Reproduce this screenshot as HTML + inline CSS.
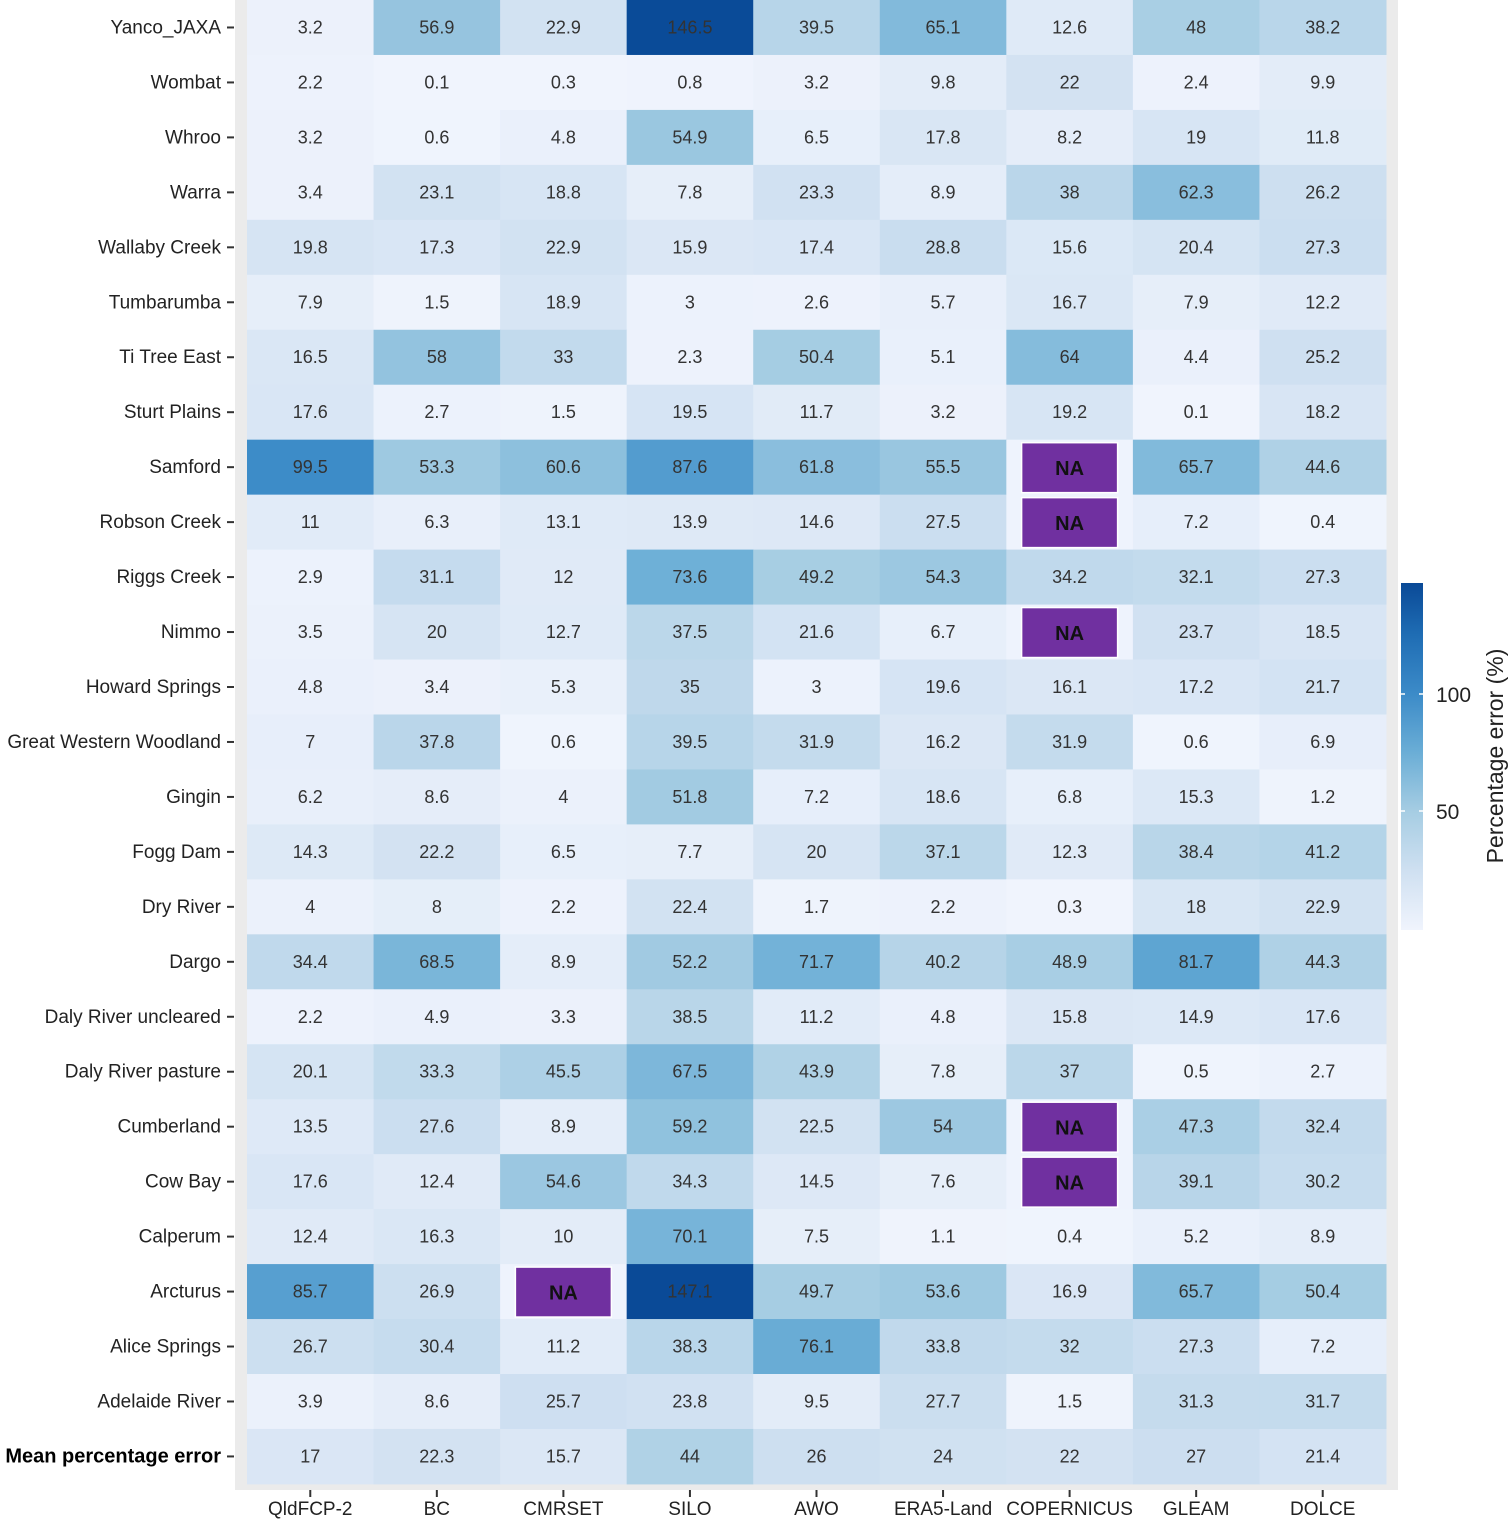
<!DOCTYPE html>
<html><head><meta charset="utf-8"><style>
body{margin:0;background:#fff;font-family:"Liberation Sans",Arial,sans-serif;}
svg text{font-family:"Liberation Sans",Arial,sans-serif;}
</style></head><body>
<svg id="chart" width="1511" height="1520" viewBox="0 0 1511 1520">
<defs><linearGradient id="cb" x1="0" y1="1" x2="0" y2="0">
<stop offset="0" stop-color="#f0f4fd"/><stop offset="0.17" stop-color="#cfe0f1"/><stop offset="0.34" stop-color="#a6cde3"/><stop offset="0.51" stop-color="#6baed6"/><stop offset="0.68" stop-color="#3c8bc8"/><stop offset="0.85" stop-color="#1f6db4"/><stop offset="1" stop-color="#0a4a97"/></linearGradient></defs>
<rect x="235" y="0" width="1163" height="1490" fill="#ebebeb"/>
<g id="cells"></g><g id="ylabels"></g><g id="xlabels"></g>
<rect x="1401" y="583" width="22" height="347" fill="url(#cb)"/>
<line x1="1401" y1="694" x2="1405" y2="694" stroke="#fff" stroke-width="1.5"/><line x1="1419" y1="694" x2="1423" y2="694" stroke="#fff" stroke-width="1.5"/>
<line x1="1401" y1="811" x2="1405" y2="811" stroke="#fff" stroke-width="1.5"/><line x1="1419" y1="811" x2="1423" y2="811" stroke="#fff" stroke-width="1.5"/>
<text x="1436" y="702" font-size="21" fill="#222">100</text>
<text x="1436" y="819" font-size="21" fill="#222">50</text>
<text transform="translate(1503,756) rotate(-90)" text-anchor="middle" font-size="23" fill="#222">Percentage error (%)</text>
</svg>
<script>
const sites=["Yanco_JAXA","Wombat","Whroo","Warra","Wallaby Creek","Tumbarumba","Ti Tree East","Sturt Plains","Samford","Robson Creek","Riggs Creek","Nimmo","Howard Springs","Great Western Woodland","Gingin","Fogg Dam","Dry River","Dargo","Daly River uncleared","Daly River pasture","Cumberland","Cow Bay","Calperum","Arcturus","Alice Springs","Adelaide River","Mean percentage error"];
const products=["QldFCP-2","BC","CMRSET","SILO","AWO","ERA5-Land","COPERNICUS","GLEAM","DOLCE"];
const values=[
[3.2,56.9,22.9,146.5,39.5,65.1,12.6,48,38.2],
[2.2,0.1,0.3,0.8,3.2,9.8,22,2.4,9.9],
[3.2,0.6,4.8,54.9,6.5,17.8,8.2,19,11.8],
[3.4,23.1,18.8,7.8,23.3,8.9,38,62.3,26.2],
[19.8,17.3,22.9,15.9,17.4,28.8,15.6,20.4,27.3],
[7.9,1.5,18.9,3,2.6,5.7,16.7,7.9,12.2],
[16.5,58,33,2.3,50.4,5.1,64,4.4,25.2],
[17.6,2.7,1.5,19.5,11.7,3.2,19.2,0.1,18.2],
[99.5,53.3,60.6,87.6,61.8,55.5,null,65.7,44.6],
[11,6.3,13.1,13.9,14.6,27.5,null,7.2,0.4],
[2.9,31.1,12,73.6,49.2,54.3,34.2,32.1,27.3],
[3.5,20,12.7,37.5,21.6,6.7,null,23.7,18.5],
[4.8,3.4,5.3,35,3,19.6,16.1,17.2,21.7],
[7,37.8,0.6,39.5,31.9,16.2,31.9,0.6,6.9],
[6.2,8.6,4,51.8,7.2,18.6,6.8,15.3,1.2],
[14.3,22.2,6.5,7.7,20,37.1,12.3,38.4,41.2],
[4,8,2.2,22.4,1.7,2.2,0.3,18,22.9],
[34.4,68.5,8.9,52.2,71.7,40.2,48.9,81.7,44.3],
[2.2,4.9,3.3,38.5,11.2,4.8,15.8,14.9,17.6],
[20.1,33.3,45.5,67.5,43.9,7.8,37,0.5,2.7],
[13.5,27.6,8.9,59.2,22.5,54,null,47.3,32.4],
[17.6,12.4,54.6,34.3,14.5,7.6,null,39.1,30.2],
[12.4,16.3,10,70.1,7.5,1.1,0.4,5.2,8.9],
[85.7,26.9,null,147.1,49.7,53.6,16.9,65.7,50.4],
[26.7,30.4,11.2,38.3,76.1,33.8,32,27.3,7.2],
[3.9,8.6,25.7,23.8,9.5,27.7,1.5,31.3,31.7],
[17,22.3,15.7,44,26,24,22,27,21.4]];
const X0=247,X1=1386,Y0=0,ROWH=54.96,COLW=(X1-X0)/products.length;
const xPos=i=>X0+i*COLW, yPos=j=>Y0+j*ROWH;
const stops=[[0,[240,244,253]],[25,[207,224,241]],[50,[166,205,227]],[75,[107,174,214]],[100,[60,139,200]],[125,[31,109,180]],[147,[10,74,151]]];
function color(v){for(let k=1;k<stops.length;k++){if(v<=stops[k][0]||k==stops.length-1){const a=stops[k-1],b=stops[k],t=Math.min(1,(v-a[0])/(b[0]-a[0]));return 'rgb('+a[1].map((c,i)=>Math.round(c+(b[1][i]-c)*t)).join(',')+')';}}}
const NS="http://www.w3.org/2000/svg";
function mk(tag,attrs,parent){const e=document.createElementNS(NS,tag);for(const k in attrs)e.setAttribute(k,attrs[k]);parent.appendChild(e);return e;}
const cells=document.getElementById('cells'),yl=document.getElementById('ylabels'),xl=document.getElementById('xlabels');
values.forEach((row,j)=>{row.forEach((v,i)=>{
 const x=xPos(i),y=yPos(j);
 const r=mk('rect',{x:x,y:y,width:COLW+0.5,height:ROWH+0.5,fill:v==null?'#eef3fd':color(v)},cells);
 
 
 if(v==null){
  const na=mk('rect',{x:x+COLW/2-48,y:y+3,width:96,height:ROWH-5,fill:'#7030a0',stroke:'#fff','stroke-width':1.5},cells);
  
  
  const t=mk('text',{x:x+COLW/2,y:y+ROWH/2+8,'text-anchor':'middle','font-size':20,'font-weight':'bold',fill:'#111'},cells);t.textContent='NA';
  
  
 } else {
  const t=mk('text',{x:x+COLW/2,y:y+ROWH/2+6,'text-anchor':'middle','font-size':18,fill:'#333'},cells);t.textContent=String(v);
  
  
 }
});
 const cy=yPos(j)+ROWH/2;
 const last=j==sites.length-1;
 const lt=mk('text',{x:221,y:cy+6,'text-anchor':'end','font-size':last?20:19,'font-weight':last?'bold':'normal',fill:last?'#000':'#222'},yl);lt.textContent=sites[j];
 
 
 mk('line',{x1:227,y1:cy,x2:234,y2:cy,stroke:'#333','stroke-width':2},yl);
});
products.forEach((p,i)=>{
 const cx=xPos(i)+COLW/2;
 mk('line',{x1:cx,y1:1490,x2:cx,y2:1497,stroke:'#333','stroke-width':2},xl);
 const t=mk('text',{x:cx,y:1515,'text-anchor':'middle','font-size':19,fill:'#222'},xl);t.textContent=p;
 
 
});
</script>
</body></html>
